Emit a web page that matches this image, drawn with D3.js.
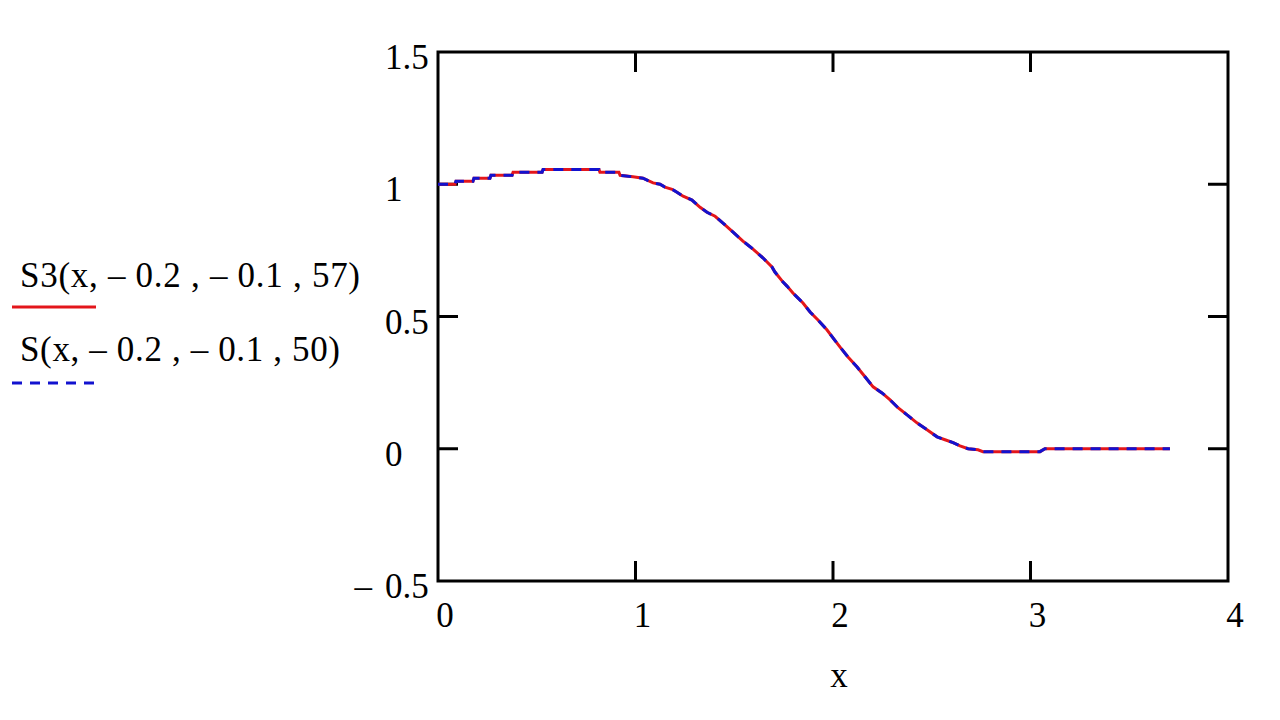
<!DOCTYPE html>
<html>
<head>
<meta charset="utf-8">
<script src="https://cdn.jsdelivr.net/npm/d3@7"></script>
<style>
  body { margin: 0; background: #fff; }
  text { font-family: "Liberation Serif", "Times New Roman", serif; fill: #000; }
</style>
</head>
<body>
<div id="chart"></div>
<script>
// values
var xVals = [0, 0.086, 0.091, 0.177, 0.182, 0.263, 0.268, 0.375, 0.380, 0.527, 0.532, 0.815, 0.820, 0.916, 0.922,
  0.987, 1.038, 1.089, 1.124, 1.149, 1.185, 1.210, 1.241, 1.286, 1.327, 1.362, 1.403, 1.443, 1.494, 1.544, 1.595,
  1.646, 1.691, 1.706, 1.747, 1.767, 1.797, 1.848, 1.884, 1.924, 1.970, 2.0, 2.035, 2.076, 2.122, 2.162, 2.203,
  2.248, 2.289, 2.329, 2.375, 2.425, 2.476, 2.527, 2.567, 2.608, 2.643, 2.684, 2.734, 2.759, 3.048, 3.073, 3.706];
var s3Vals = [1.0, 1.0, 1.011, 1.011, 1.023, 1.023, 1.034, 1.034, 1.045, 1.045, 1.056, 1.056, 1.045, 1.045, 1.034,
  1.028, 1.023, 1.005, 1.0, 0.989, 0.981, 0.970, 0.955, 0.940, 0.913, 0.894, 0.879, 0.853, 0.819, 0.785, 0.755,
  0.721, 0.687, 0.668, 0.630, 0.615, 0.589, 0.551, 0.517, 0.487, 0.449, 0.419, 0.385, 0.347, 0.309, 0.272, 0.234,
  0.211, 0.185, 0.155, 0.128, 0.098, 0.072, 0.045, 0.034, 0.023, 0.011, 0.0, -0.004, -0.011, -0.011, 0.0, 0.0];
var sVals = [1.0, 1.0, 1.011, 1.011, 1.023, 1.023, 1.034, 1.034, 1.045, 1.045, 1.056, 1.056, 1.045, 1.045, 1.034,
  1.028, 1.023, 1.005, 1.0, 0.989, 0.981, 0.970, 0.955, 0.940, 0.913, 0.894, 0.879, 0.853, 0.819, 0.785, 0.755,
  0.721, 0.687, 0.668, 0.630, 0.615, 0.589, 0.551, 0.517, 0.487, 0.449, 0.419, 0.385, 0.347, 0.309, 0.272, 0.234,
  0.211, 0.185, 0.155, 0.128, 0.098, 0.072, 0.045, 0.034, 0.023, 0.011, 0.0, -0.004, -0.011, -0.011, 0.0, 0.0];

var xTicks = [0, 1, 2, 3, 4];
var yTicks = [1.5, 1, 0.5, 0, -0.5];
var legendLabels = ["S3(x, \u2013 0.2 , \u2013 0.1 , 57)", "S(x, \u2013 0.2 , \u2013 0.1 , 50)"];

// plot box (named so they don't clash with window.top etc)
var boxL = 438, boxR = 1228, boxT = 52, boxB = 581;
var red = "#e3161b", blue = "#1212cf";
var fontSize = "35px";

var svg = d3.select("#chart")
    .append("svg")
    .attr("width", 1280)
    .attr("height", 720);

var x = d3.scaleLinear().domain([0, 4]).range([boxL, boxR]);
var y = d3.scaleLinear().domain([-0.5, 1.5]).range([boxB, boxT]);

// inner ticks on all four sides (not at the corners)
var tickLen = 20;
var g = svg.append("g").attr("stroke", "#000").attr("stroke-width", 3);
xTicks.slice(1, -1).forEach(function(t) {
    g.append("line").attr("x1", x(t)).attr("x2", x(t)).attr("y1", boxB).attr("y2", boxB - tickLen);
    g.append("line").attr("x1", x(t)).attr("x2", x(t)).attr("y1", boxT).attr("y2", boxT + tickLen);
});
yTicks.slice(1, -1).forEach(function(t) {
    g.append("line").attr("x1", boxL).attr("x2", boxL + tickLen).attr("y1", y(t)).attr("y2", y(t));
    g.append("line").attr("x1", boxR).attr("x2", boxR - tickLen).attr("y1", y(t)).attr("y2", y(t));
});

// frame
svg.append("rect")
    .attr("x", boxL).attr("y", boxT)
    .attr("width", boxR - boxL).attr("height", boxB - boxT)
    .attr("fill", "none").attr("stroke", "#000").attr("stroke-width", 3);

// tick labels
svg.selectAll(".xlab").data(xTicks).enter()
    .append("text")
    .attr("x", function(d) { return x(d) + 7; })
    .attr("y", 627)
    .attr("text-anchor", "middle")
    .style("font-size", fontSize)
    .text(function(d) { return d; });

yTicks.forEach(function(t) {
    svg.append("text")
        .attr("x", 385)
        .attr("y", y(t) + 17)
        .style("font-size", fontSize)
        .text(Math.abs(t));
    if (t < 0) {
        svg.append("text")
            .attr("x", 372)
            .attr("y", y(t) + 17)
            .attr("text-anchor", "end")
            .style("font-size", fontSize)
            .text("\u2013");
    }
});

// axis title
svg.append("text")
    .attr("x", 839).attr("y", 687)
    .attr("text-anchor", "middle")
    .style("font-size", fontSize)
    .text("x");

// curves
var pts3 = xVals.map(function(v, i) { return [v, s3Vals[i]]; });
var pts = xVals.map(function(v, i) { return [v, sVals[i]]; });
var line = d3.line()
    .x(function(d) { return x(d[0]); })
    .y(function(d) { return y(d[1]); });

svg.append("path")
    .datum(pts3)
    .attr("d", line)
    .attr("fill", "none")
    .attr("stroke", red)
    .attr("stroke-width", 3);

svg.append("path")
    .datum(pts)
    .attr("d", line)
    .attr("fill", "none")
    .attr("stroke", blue)
    .attr("stroke-width", 3)
    .attr("stroke-dasharray", "10,8");

// legend
svg.append("text")
    .attr("x", 20).attr("y", 287)
    .attr("textLength", 340).attr("lengthAdjust", "spacing")
    .style("font-size", fontSize)
    .text(legendLabels[0]);
svg.append("line")
    .attr("x1", 12).attr("x2", 96).attr("y1", 307).attr("y2", 307)
    .attr("stroke", red).attr("stroke-width", 3);

svg.append("text")
    .attr("x", 20).attr("y", 361)
    .attr("textLength", 320).attr("lengthAdjust", "spacing")
    .style("font-size", fontSize)
    .text(legendLabels[1]);
svg.append("line")
    .attr("x1", 12).attr("x2", 94).attr("y1", 383).attr("y2", 383)
    .attr("stroke", blue).attr("stroke-width", 3)
    .attr("stroke-dasharray", "10,8");
</script>
</body>
</html>
